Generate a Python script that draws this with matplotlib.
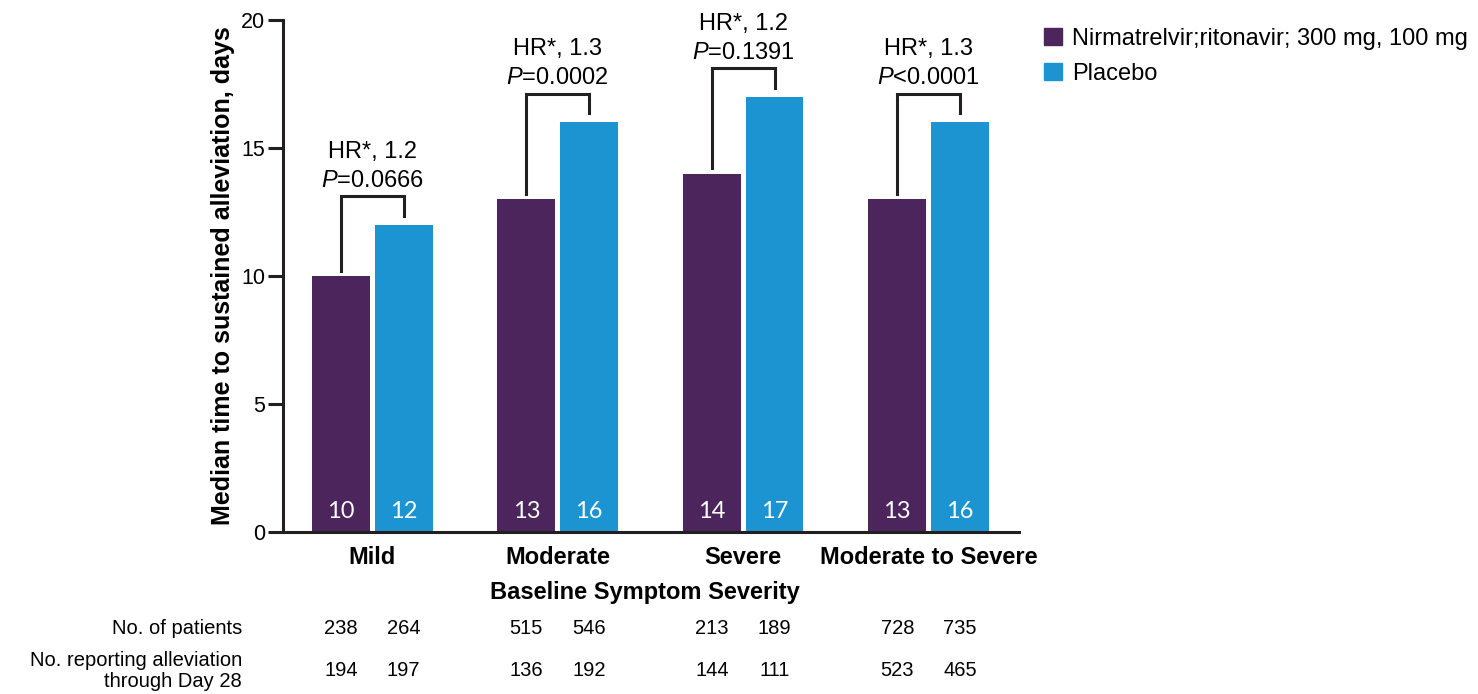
import numpy as np
import matplotlib
matplotlib.use("Agg")
import matplotlib.pyplot as plt
from matplotlib.patches import Rectangle
from matplotlib.transforms import blended_transform_factory

plt.rcParams['font.family'] = ['Liberation Sans', 'DejaVu Sans']
plt.rcParams['mathtext.fontset'] = 'custom'
plt.rcParams['mathtext.it'] = 'Liberation Sans:italic'
plt.rcParams['mathtext.rm'] = 'Liberation Sans'

# data
categories = ['Mild', 'Moderate', 'Severe', 'Moderate to Severe']
treated = [10, 13, 14, 13]
placebo = [12, 16, 17, 16]
hr_labels = ['HR*, 1.2', 'HR*, 1.3', 'HR*, 1.2', 'HR*, 1.3']
p_labels = ['=0.0666', '=0.0002', '=0.1391', '<0.0001']
n_patients_t = [238, 515, 213, 728]
n_patients_p = [264, 546, 189, 735]
n_report_t = [194, 136, 144, 523]
n_report_p = [197, 192, 111, 465]
series_names = ['Nirmatrelvir;ritonavir; 300 mg, 100 mg', 'Placebo']

PURPLE = '#4b255c'
BLUE = '#1b94d1'
DARK = '#231f20'

W, H = 1478, 694
fig = plt.figure(figsize=(W / 100, H / 100), dpi=100)
ax = fig.add_axes([283 / W, 1 - 532 / H, (1019 - 283) / W, (532 - 20) / H])

x = np.arange(len(categories))
bw = 0.312
off = 0.169
ax.bar(x - off, treated, bw, color=PURPLE)
ax.bar(x + off, placebo, bw, color=BLUE)

ax.set_xlim(-0.481, 3.487)
ax.set_ylim(0, 20)
ax.set_yticks([0, 5, 10, 15, 20])
ax.set_xticks([])
for s in ['top', 'right']:
    ax.spines[s].set_visible(False)
for s in ['left', 'bottom']:
    ax.spines[s].set_linewidth(2.2)
    ax.spines[s].set_color(DARK)
ax.tick_params(axis='y', length=11, width=2.2, color=DARK, labelsize=15.5, pad=2)
ax.set_ylabel('Median time to sustained alleviation, days', fontsize=18,
              fontweight='bold', labelpad=4)

# values inside bars
for i in range(len(categories)):
    ax.text(x[i] - off, 0.8, str(treated[i]), color='white', ha='center', va='center',
            fontsize=17, family=['Lato', 'DejaVu Sans'], fontweight='normal')
    ax.text(x[i] + off, 0.8, str(placebo[i]), color='white', ha='center', va='center',
            fontsize=17, family=['Lato', 'DejaVu Sans'], fontweight='normal')

# brackets with HR / P annotations
for i in range(len(categories)):
    top = placebo[i] + 1.12
    ax.plot([x[i] - off, x[i] - off, x[i] + off, x[i] + off],
            [treated[i] + 0.2, top, top, placebo[i] + 0.35],
            color=DARK, lw=2.2, solid_joinstyle='miter', clip_on=False)
    ax.annotate('$\\mathit{P}$' + p_labels[i], (x[i], top), xytext=(0, 11),
                textcoords='offset points', ha='center', va='center', fontsize=17,
                annotation_clip=False)
    ax.annotate(hr_labels[i], (x[i], top), xytext=(0, 32),
                textcoords='offset points', ha='center', va='center', fontsize=17,
                annotation_clip=False)

# category labels and table under the axis
tr = blended_transform_factory(ax.transData, fig.transFigure)
for i, c in enumerate(categories):
    fig.text(x[i], 1 - 557 / H, c, transform=tr, ha='center', va='center',
             fontsize=17, fontweight='bold')
fig.text(645 / W, 1 - 592 / H, 'Baseline Symptom Severity', ha='center', va='center',
         fontsize=17, fontweight='bold')

tbl_fs = 14.5
fig.text(242 / W, 1 - 628 / H, 'No. of patients', ha='right', va='center',
         fontsize=tbl_fs)
fig.text(242 / W, 1 - 671 / H, 'No. reporting alleviation\nthrough Day 28', ha='right',
         va='center', fontsize=tbl_fs, linespacing=1.15)
for i in range(len(categories)):
    for xx, a, b in [(x[i] - off, n_patients_t[i], n_report_t[i]),
                     (x[i] + off, n_patients_p[i], n_report_p[i])]:
        fig.text(xx, 1 - 628 / H, str(a), transform=tr, ha='center', va='center',
                 fontsize=tbl_fs)
        fig.text(xx, 1 - 670 / H, str(b), transform=tr, ha='center', va='center',
                 fontsize=tbl_fs)

# legend
handles = [Rectangle((0, 0), 1, 1, color=PURPLE), Rectangle((0, 0), 1, 1, color=BLUE)]
fig.legend(handles, series_names, loc='upper left', bbox_to_anchor=(1044 / W, 1 - 28 / H),
           frameon=False, fontsize=17, handlelength=0.75, handleheight=0.75,
           handletextpad=0.45, labelspacing=0.55, borderpad=0, borderaxespad=0)

fig.savefig('out.png', dpi=100)
